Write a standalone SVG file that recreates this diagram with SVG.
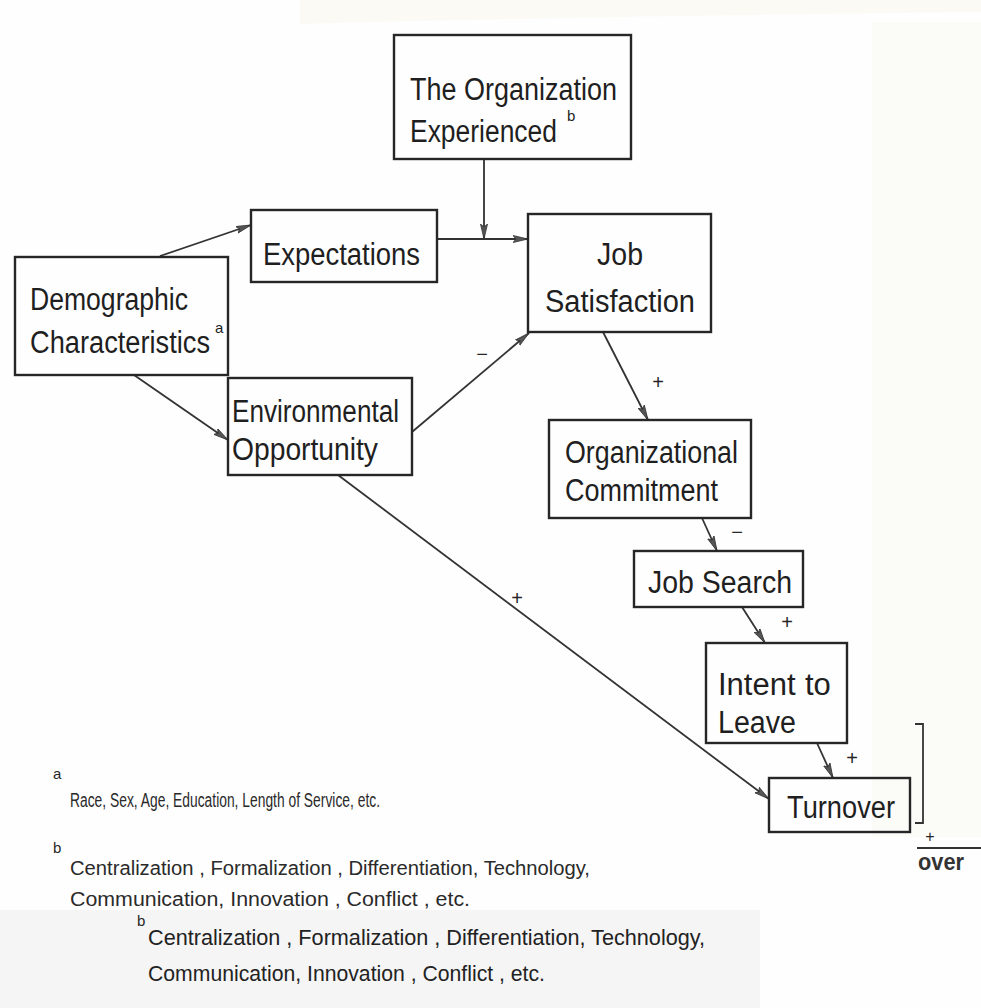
<svg xmlns="http://www.w3.org/2000/svg" width="981" height="1008" viewBox="0 0 981 1008">
<defs>
<style>
.bx{fill:none;stroke:#262626;stroke-width:2.4}
.t{font-family:"Liberation Sans",Arial,sans-serif;font-size:31px;fill:#1f1f1f}
.sup{font-family:"Liberation Sans",Arial,sans-serif;font-size:15px;fill:#262626}
.fn{font-family:"Liberation Sans",Arial,sans-serif;font-size:20px;fill:#2a2a2a}
.fn2{font-family:"Liberation Sans",Arial,sans-serif;font-size:22px;fill:#222}
.sg{font-family:"Liberation Sans",Arial,sans-serif;font-size:20px;fill:#262626;text-anchor:middle}
.ln{fill:none;stroke:#333;stroke-width:1.8}
</style>
<marker id="ah" markerUnits="userSpaceOnUse" markerWidth="16" markerHeight="10" refX="15" refY="4" orient="auto">
<path d="M0,0.5 L15,4 L0,7.5 L3,4 z" fill="#555" stroke="#333" stroke-width="0.8"/>
</marker>
</defs>
<rect x="0" y="0" width="981" height="1008" fill="#fefefe"/>
<path d="M300 24 Q600 16 981 12 L981 0 L300 0 z" fill="#fbfaf5"/>
<rect x="872" y="22" width="109" height="815" fill="#fbfbf8"/>
<rect x="0" y="910" width="760" height="98" fill="#f5f5f5"/>

<g id="connectors">
<line class="ln" x1="160" y1="256" x2="251" y2="225" marker-end="url(#ah)"/>
<line class="ln" x1="134" y1="375" x2="228" y2="440" marker-end="url(#ah)"/>
<line class="ln" x1="437" y1="239" x2="528" y2="239" marker-end="url(#ah)"/>
<line class="ln" x1="484" y1="159" x2="484" y2="239" marker-end="url(#ah)"/>
<line class="ln" x1="412" y1="432" x2="529" y2="333" marker-end="url(#ah)"/>
<line class="ln" x1="603" y1="332" x2="648" y2="420" marker-end="url(#ah)"/>
<line class="ln" x1="702" y1="518" x2="717" y2="551" marker-end="url(#ah)"/>
<line class="ln" x1="742" y1="607" x2="765" y2="643" marker-end="url(#ah)"/>
<line class="ln" x1="817" y1="743" x2="833" y2="778" marker-end="url(#ah)"/>
<line class="ln" x1="338" y1="475" x2="769" y2="799" marker-end="url(#ah)"/>
<text class="sg" x="482" y="361">−</text>
<text class="sg" x="658" y="389">+</text>
<text class="sg" x="737" y="539">−</text>
<text class="sg" x="787" y="629">+</text>
<text class="sg" x="852" y="765">+</text>
<text class="sg" x="517" y="605">+</text>
</g>

<g id="org-experienced">
<rect class="bx" x="394" y="35" width="237" height="124"/>
<text class="t" x="410" y="100" textLength="207" lengthAdjust="spacingAndGlyphs">The Organization</text>
<text class="t" x="410" y="142"><tspan textLength="147" lengthAdjust="spacingAndGlyphs">Experienced</tspan><tspan x="567" y="121" style="font-size:15px">b</tspan></text>
</g>

<g id="expectations">
<rect class="bx" x="251" y="210" width="186" height="72"/>
<text class="t" x="263" y="265" textLength="157" lengthAdjust="spacingAndGlyphs">Expectations</text>
</g>

<g id="job-satisfaction">
<rect class="bx" x="528" y="214" width="183" height="118"/>
<text class="t" x="597" y="265" textLength="46" lengthAdjust="spacingAndGlyphs">Job</text>
<text class="t" x="545" y="312" textLength="150" lengthAdjust="spacingAndGlyphs">Satisfaction</text>
</g>

<g id="demographic">
<rect class="bx" x="15" y="257" width="213" height="118"/>
<text class="t" x="30" y="310" textLength="158" lengthAdjust="spacingAndGlyphs">Demographic</text>
<text class="t" x="30" y="353"><tspan textLength="180" lengthAdjust="spacingAndGlyphs">Characteristics</tspan><tspan x="215" y="333" style="font-size:15px">a</tspan></text>
</g>

<g id="environmental-opportunity">
<rect class="bx" x="228" y="378" width="184" height="97"/>
<text class="t" x="232" y="422" textLength="167" lengthAdjust="spacingAndGlyphs">Environmental</text>
<text class="t" x="232" y="460" textLength="146" lengthAdjust="spacingAndGlyphs">Opportunity</text>
</g>

<g id="organizational-commitment">
<rect class="bx" x="549" y="420" width="202" height="98"/>
<text class="t" x="565" y="463" textLength="173" lengthAdjust="spacingAndGlyphs">Organizational</text>
<text class="t" x="565" y="501" textLength="153" lengthAdjust="spacingAndGlyphs">Commitment</text>
</g>

<g id="job-search">
<rect class="bx" x="634" y="551" width="169" height="56"/>
<text class="t" x="648" y="593" textLength="144" lengthAdjust="spacingAndGlyphs">Job Search</text>
</g>

<g id="intent-to-leave">
<rect class="bx" x="706" y="643" width="141" height="100"/>
<text class="t" x="718" y="695">Intent <tspan x="805">to</tspan></text>
<text class="t" x="718" y="733" textLength="78" lengthAdjust="spacingAndGlyphs">Leave</text>
</g>

<g id="turnover">
<rect class="bx" x="769" y="778" width="141" height="54"/>
<text class="t" x="787" y="818" textLength="108" lengthAdjust="spacingAndGlyphs">Turnover</text>
</g>

<g id="cropped-fragment">
<path class="ln" d="M915 724 H923 V823 H915"/>
<text class="sg" x="930" y="842" style="font-size:16px">+</text>
<line class="ln" x1="917" y1="848" x2="981" y2="848"/>
<text x="918" y="870" style="font-family:'Liberation Sans',Arial,sans-serif;font-size:23px;font-weight:bold;fill:#333" textLength="46" lengthAdjust="spacingAndGlyphs">over</text>
</g>

<g id="footnotes">
<text class="sup" x="53" y="779">a</text>
<text class="fn" x="70" y="807" textLength="310" lengthAdjust="spacingAndGlyphs">Race, Sex, Age, Education, Length of Service, etc.</text>
<text class="sup" x="53" y="853">b</text>
<text class="fn" x="70" y="875" textLength="520" lengthAdjust="spacingAndGlyphs">Centralization , Formalization , Differentiation, Technology,</text>
<text class="fn" x="70" y="906" textLength="400" lengthAdjust="spacingAndGlyphs">Communication, Innovation , Conflict , etc.</text>
<text class="sup" x="137" y="926">b</text>
<text class="fn2" x="148" y="945" textLength="557" lengthAdjust="spacingAndGlyphs">Centralization , Formalization , Differentiation, Technology,</text>
<text class="fn2" x="148" y="981" textLength="397" lengthAdjust="spacingAndGlyphs">Communication, Innovation , Conflict , etc.</text>
</g>
</svg>
